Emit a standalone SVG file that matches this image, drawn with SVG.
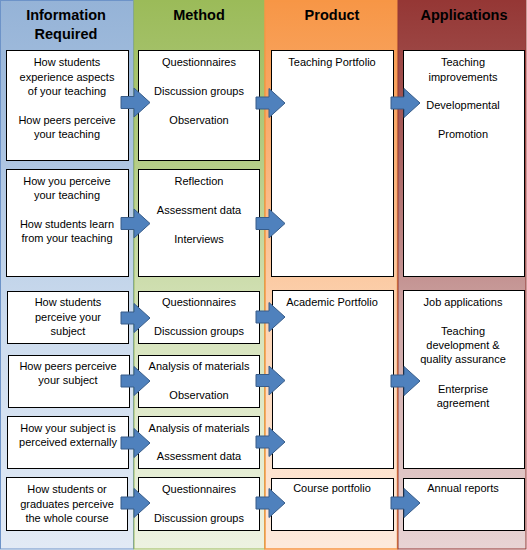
<svg xmlns="http://www.w3.org/2000/svg" width="527" height="550" viewBox="0 0 527 550">
<defs>
<linearGradient id="gBlue" x1="0" y1="0" x2="0" y2="1">
<stop offset="0" stop-color="#95b3d7"/><stop offset="0.25" stop-color="#a9c2e0"/><stop offset="0.6" stop-color="#cddcee"/><stop offset="1" stop-color="#e2eaf5"/>
</linearGradient>
<linearGradient id="gGreen" x1="0" y1="0" x2="0" y2="1">
<stop offset="0" stop-color="#9bbb59"/><stop offset="0.25" stop-color="#b0c97f"/><stop offset="0.6" stop-color="#d7e4bd"/><stop offset="1" stop-color="#edf2e1"/>
</linearGradient>
<linearGradient id="gOrange" x1="0" y1="0" x2="0" y2="1">
<stop offset="0" stop-color="#f79646"/><stop offset="0.25" stop-color="#f9ae72"/><stop offset="0.6" stop-color="#fcd5b6"/><stop offset="1" stop-color="#fdeadc"/>
</linearGradient>
<linearGradient id="gRed" x1="0" y1="0" x2="0" y2="1">
<stop offset="0" stop-color="#953735"/><stop offset="0.25" stop-color="#a65d5b"/><stop offset="0.6" stop-color="#cfa8a7"/><stop offset="1" stop-color="#e8d4d4"/>
</linearGradient>
<path id="arrow" d="M0,-6 H13 V-14.5 L29,0 L13,14.5 V6 H0 Z"/>
</defs>
<style>
.box{fill:#ffffff;stroke:#000000;stroke-width:1}
.hd{font-family:"Liberation Sans",Arial,sans-serif;font-weight:bold;font-size:14.5px;fill:#000000;text-anchor:middle}
.t{font-family:"Liberation Sans",Arial,sans-serif;font-size:11px;fill:#000000;text-anchor:middle}
.arr{fill:#4f81bd;stroke:#385d8a;stroke-width:1}
</style>
<g id="columns">
<rect x="0.5" y="0.5" width="133" height="548.5" fill="url(#gBlue)" stroke="#6d93c8" stroke-width="1"/>
<rect x="134" y="0.5" width="130.5" height="548.5" fill="url(#gGreen)" stroke="#9bbb59" stroke-width="1"/>
<rect x="265" y="0.5" width="132.5" height="548.5" fill="url(#gOrange)" stroke="#f79646" stroke-width="1.5"/>
<rect x="398" y="0.5" width="128" height="548.5" fill="url(#gRed)" stroke="#953735" stroke-width="1"/>
<text class="hd" x="66" y="20">Information</text>
<text class="hd" x="66" y="39">Required</text>
<text class="hd" x="199" y="20">Method</text>
<text class="hd" x="332" y="20">Product</text>
<text class="hd" x="464" y="20">Applications</text>
</g>
<g id="info1"><rect class="box" x="6.5" y="50.5" width="122" height="110"/>
<text class="t" x="67" y="66">How students</text><text class="t" x="67" y="81">experience aspects</text><text class="t" x="67" y="95">of your teaching</text><text class="t" x="67" y="124">How peers perceive</text><text class="t" x="67" y="138">your teaching</text></g>
<g id="info2"><rect class="box" x="6.5" y="169.5" width="122" height="107"/>
<text class="t" x="67" y="185">How you perceive</text><text class="t" x="67" y="199">your teaching</text><text class="t" x="67" y="228">How students learn</text><text class="t" x="67" y="242">from your teaching</text></g>
<g id="info3"><rect class="box" x="7.5" y="291.5" width="121" height="52"/>
<text class="t" x="68" y="306">How students</text><text class="t" x="68" y="321">perceive your</text><text class="t" x="68" y="335">subject</text></g>
<g id="info4"><rect class="box" x="8.5" y="355.5" width="121" height="52"/>
<text class="t" x="68" y="370">How peers perceive</text><text class="t" x="68" y="384">your subject</text></g>
<g id="info5"><rect class="box" x="7.5" y="416.5" width="121" height="52"/>
<text class="t" x="68" y="432">How your subject is</text><text class="t" x="68" y="446">perceived externally</text></g>
<g id="info6"><rect class="box" x="6.5" y="477.5" width="121" height="53"/>
<text class="t" x="67" y="493">How students or</text><text class="t" x="67" y="508">graduates perceive</text><text class="t" x="67" y="522">the whole course</text></g>
<g id="method1"><rect class="box" x="138.5" y="50.5" width="121" height="110"/>
<text class="t" x="199" y="66">Questionnaires</text><text class="t" x="199" y="95">Discussion groups</text><text class="t" x="199" y="124">Observation</text></g>
<g id="method2"><rect class="box" x="138.5" y="169.5" width="121" height="107"/>
<text class="t" x="199" y="185">Reflection</text><text class="t" x="199" y="214">Assessment data</text><text class="t" x="199" y="243">Interviews</text></g>
<g id="method3"><rect class="box" x="138.5" y="291.5" width="121" height="52"/>
<text class="t" x="199" y="306">Questionnaires</text><text class="t" x="199" y="335">Discussion groups</text></g>
<g id="method4"><rect class="box" x="138.5" y="355.5" width="121" height="52"/>
<text class="t" x="199" y="370">Analysis of materials</text><text class="t" x="199" y="399">Observation</text></g>
<g id="method5"><rect class="box" x="138.5" y="416.5" width="121" height="52"/>
<text class="t" x="199" y="432">Analysis of materials</text><text class="t" x="199" y="460">Assessment data</text></g>
<g id="method6"><rect class="box" x="138.5" y="477.5" width="121" height="53"/>
<text class="t" x="199" y="493">Questionnaires</text><text class="t" x="199" y="522">Discussion groups</text></g>
<g id="product1"><rect class="box" x="271.5" y="50.5" width="122" height="226"/>
<text class="t" x="332" y="66">Teaching Portfolio</text></g>
<g id="product2"><rect class="box" x="272.5" y="290.5" width="121" height="178"/>
<text class="t" x="332" y="306">Academic Portfolio</text></g>
<g id="product3"><rect class="box" x="271.5" y="478.5" width="122" height="52"/>
<text class="t" x="332" y="492">Course portfolio</text></g>
<g id="app1"><rect class="box" x="403.5" y="50.5" width="121" height="226"/>
<text class="t" x="463" y="66">Teaching</text><text class="t" x="463" y="81">improvements</text><text class="t" x="463" y="109">Developmental</text><text class="t" x="463" y="138">Promotion</text></g>
<g id="app2"><rect class="box" x="403.5" y="290.5" width="121" height="178"/>
<text class="t" x="463" y="306">Job applications</text><text class="t" x="463" y="335">Teaching</text><text class="t" x="463" y="349">development &amp;</text><text class="t" x="463" y="363">quality assurance</text><text class="t" x="463" y="393">Enterprise</text><text class="t" x="463" y="407">agreement</text></g>
<g id="app3"><rect class="box" x="403.5" y="478.5" width="121" height="52"/>
<text class="t" x="463" y="492">Annual reports</text></g>
<g id="connectors" class="arr">
<use href="#arrow" x="121" y="102.5"/>
<use href="#arrow" x="121" y="223.5"/>
<use href="#arrow" x="121" y="318"/>
<use href="#arrow" x="121" y="381"/>
<use href="#arrow" x="121" y="443"/>
<use href="#arrow" x="121" y="503"/>
<use href="#arrow" x="256" y="103"/>
<use href="#arrow" x="256" y="223.5"/>
<use href="#arrow" x="256" y="317"/>
<use href="#arrow" x="256" y="380.5"/>
<use href="#arrow" x="256" y="442"/>
<use href="#arrow" x="256" y="503"/>
<use href="#arrow" x="391" y="103"/>
<use href="#arrow" x="391" y="381"/>
<use href="#arrow" x="391" y="503"/>
</g>
</svg>
